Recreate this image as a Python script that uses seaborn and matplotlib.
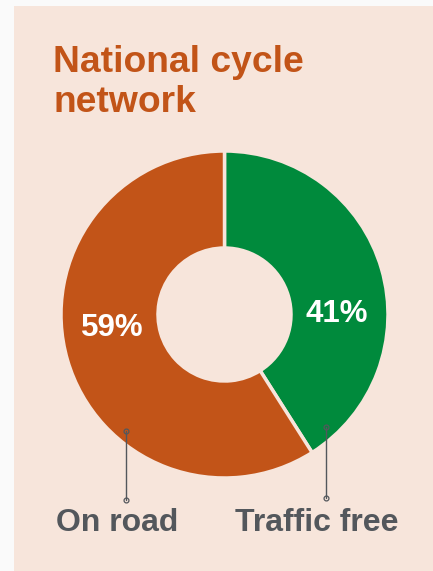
import matplotlib
matplotlib.use("Agg")
import matplotlib.pyplot as plt
import seaborn as sns
from matplotlib.patches import Rectangle

# ---- data ----
categories = ["Traffic free", "On road"]
values = [41, 59]
pct_labels = ["41%", "59%"]
title_lines = ["National cycle", "network"]

# ---- style ----
sns.set_theme(style="white")
plt.rcParams['font.family'] = ['Liberation Sans', 'DejaVu Sans']

BG = "#F7E5DB"
ORANGE = "#C25418"
GREEN = "#008A3C"
GREY = "#53575C"
colors = [GREEN, ORANGE]

W, H = 433, 571
fig = plt.figure(figsize=(W / 100, H / 100), dpi=100, facecolor="#FAFAFA")
fig.patches.append(Rectangle((14 / W, 0), 1 - 14 / W, 1 - 6 / H, transform=fig.transFigure,
                             facecolor=BG, edgecolor="none", zorder=-10))

cx, cy, R = 224.5, 314.5, 163.5
ax = fig.add_axes([(cx - R) / W, (H - cy - R) / H, 2 * R / W, 2 * R / H])
ax.set_zorder(5)
ax.axis("off")
ax.patch.set_alpha(0)

wedges, _ = ax.pie(values, colors=colors, startangle=90, counterclock=False, radius=1,
                   wedgeprops=dict(width=1 - 66.5 / R, edgecolor=BG, linewidth=2.5))
ax.set_xlim(-1, 1)
ax.set_ylim(-1, 1)

def px(x, y):
    return ((x - cx) / R, (cy - y) / R)

# percent labels
for lab, (x, y) in zip(pct_labels, [(337, 314), (112, 328)]):
    ax.text(*px(x, y), lab, color="white", fontsize=22.5, fontweight="bold",
            ha="center", va="center")

# leader lines with small circle ends
for (x, y0, y1) in [(126, 431, 500), (326, 427, 498)]:
    p0 = px(x, y0)
    p1 = px(x, y1)
    ax.plot([p0[0], p1[0]], [p0[1], p1[1]], color=GREY, lw=1, clip_on=False,
            marker="o", markersize=3.5, markerfacecolor="none", markeredgewidth=0.9)

# category labels
for lab, (x, y) in zip(["On road", "Traffic free"], [(117, 523), (317, 523)]):
    fig.text(x / W, 1 - y / H, lab, color=GREY, fontsize=23, fontweight="bold",
             ha="center", va="center", zorder=6)

# title
fig.text(53 / W, 1 - 72 / H, title_lines[0], color=ORANGE, fontsize=26.8,
         fontweight="bold", ha="left", va="baseline", zorder=6)
fig.text(53 / W, 1 - 112 / H, title_lines[1], color=ORANGE, fontsize=26.8,
         fontweight="bold", ha="left", va="baseline", zorder=6)

fig.savefig("out.png", dpi=100, facecolor=fig.get_facecolor())
